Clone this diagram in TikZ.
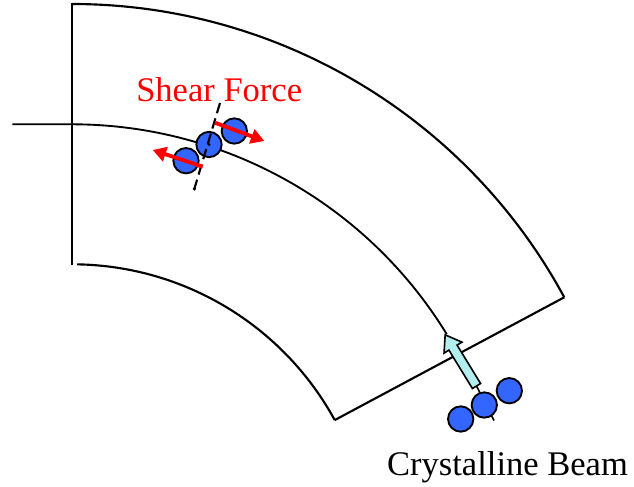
\documentclass[tikz,border=0pt]{standalone}
\usepackage{fontspec}
\setmainfont{Liberation Serif}
\usetikzlibrary{arrows.meta,calc}
\definecolor{ballblue}{RGB}{51,102,255}
\definecolor{beamcyan}{RGB}{178,238,238}
\begin{document}
\begin{tikzpicture}[x=0.75pt,y=0.75pt,
  edge/.style={line width=1.6pt},
  ball/.style={circle, draw=black, line width=1.4pt, fill=ballblue, minimum size=19pt, inner sep=0pt},
  shear/.style={red, line width=2.9pt, -{Triangle[length=10pt,width=11pt]}},
  axisline/.style={black, line width=1.6pt, dash pattern=on 8pt off 4pt},
  lbl/.style={font=\fontsize{25.9}{30}\selectfont, inner sep=0pt, anchor=base}]
\useasboundingbox (0,0) rectangle (634,486);
\coordinate (C) at (72,-77.8);
% outer, middle, inner arcs
\draw[edge] (C) ++(90:559.8) coordinate (o1) arc[start angle=90,end angle=28.43,radius=559.8] coordinate (o2);
\draw[edge] (C) ++(89:299.5) coordinate (i1) arc[start angle=89,end angle=28.68,radius=299.5] coordinate (i2);
\coordinate (mstart) at (12.3,361.7);
\draw[line width=1.4pt] (mstart) -- ($(C)+(0,439.5)$) coordinate (m1) arc[start angle=90,end angle=31.5,radius=439.5] coordinate (m2);
\coordinate (vtop) at (72,483);
\coordinate (vbot) at (72,221);
\draw[edge] (vtop) -- (vbot);
\draw[edge] (i2) -- (o2);
% beam: axis line through middle ball
\coordinate (abase) at (476.5,100);
\coordinate (aend) at (494,65.5);
\draw[line width=1.2pt] (abase) -- (aend);
% beam balls
\node[ball] (b1) at (460.7,67) {};
\node[ball] (b2) at (484.3,81) {};
\node[ball] (b3) at (509.3,95.3) {};
% cyan block arrow
\begin{scope}[shift={(abase)}, rotate=121.5]
\draw[line width=1.2pt, fill=beamcyan, line join=miter]
  (0,-4.8) -- (45,-4.8) -- (45,-10.5) -- (60,0) -- (45,10.5) -- (45,4.8) -- (0,4.8) -- cycle;
\end{scope}
% shear balls
\node[ball] (sa) at (186,325.3) {};
\node[ball] (sb) at (209,341.5) {};
\node[ball] (sc) at (234.3,355) {};
\coordinate (dtop) at (220,383);
\coordinate (dbot) at (194.3,297);
\draw[axisline] (dtop) -- (dbot);
\fill (dbot) circle (1.7);
\fill (sb.center) circle (1.7);
% shear force arrows
\coordinate (r0) at (215,363.3);
\coordinate (r1) at (264.3,345);
\coordinate (l0) at (202.7,319.3);
\coordinate (l1) at (152.7,336);
\draw[shear] (r0) -- (r1);
\draw[shear] (l0) -- (l1);
% labels
\node[lbl, text=red] (shearlbl) at (219.2,384.3) {Shear Force};
\node[lbl] (beamlbl) at (507.5,11) {Crystalline Beam};
\end{tikzpicture}
\end{document}
